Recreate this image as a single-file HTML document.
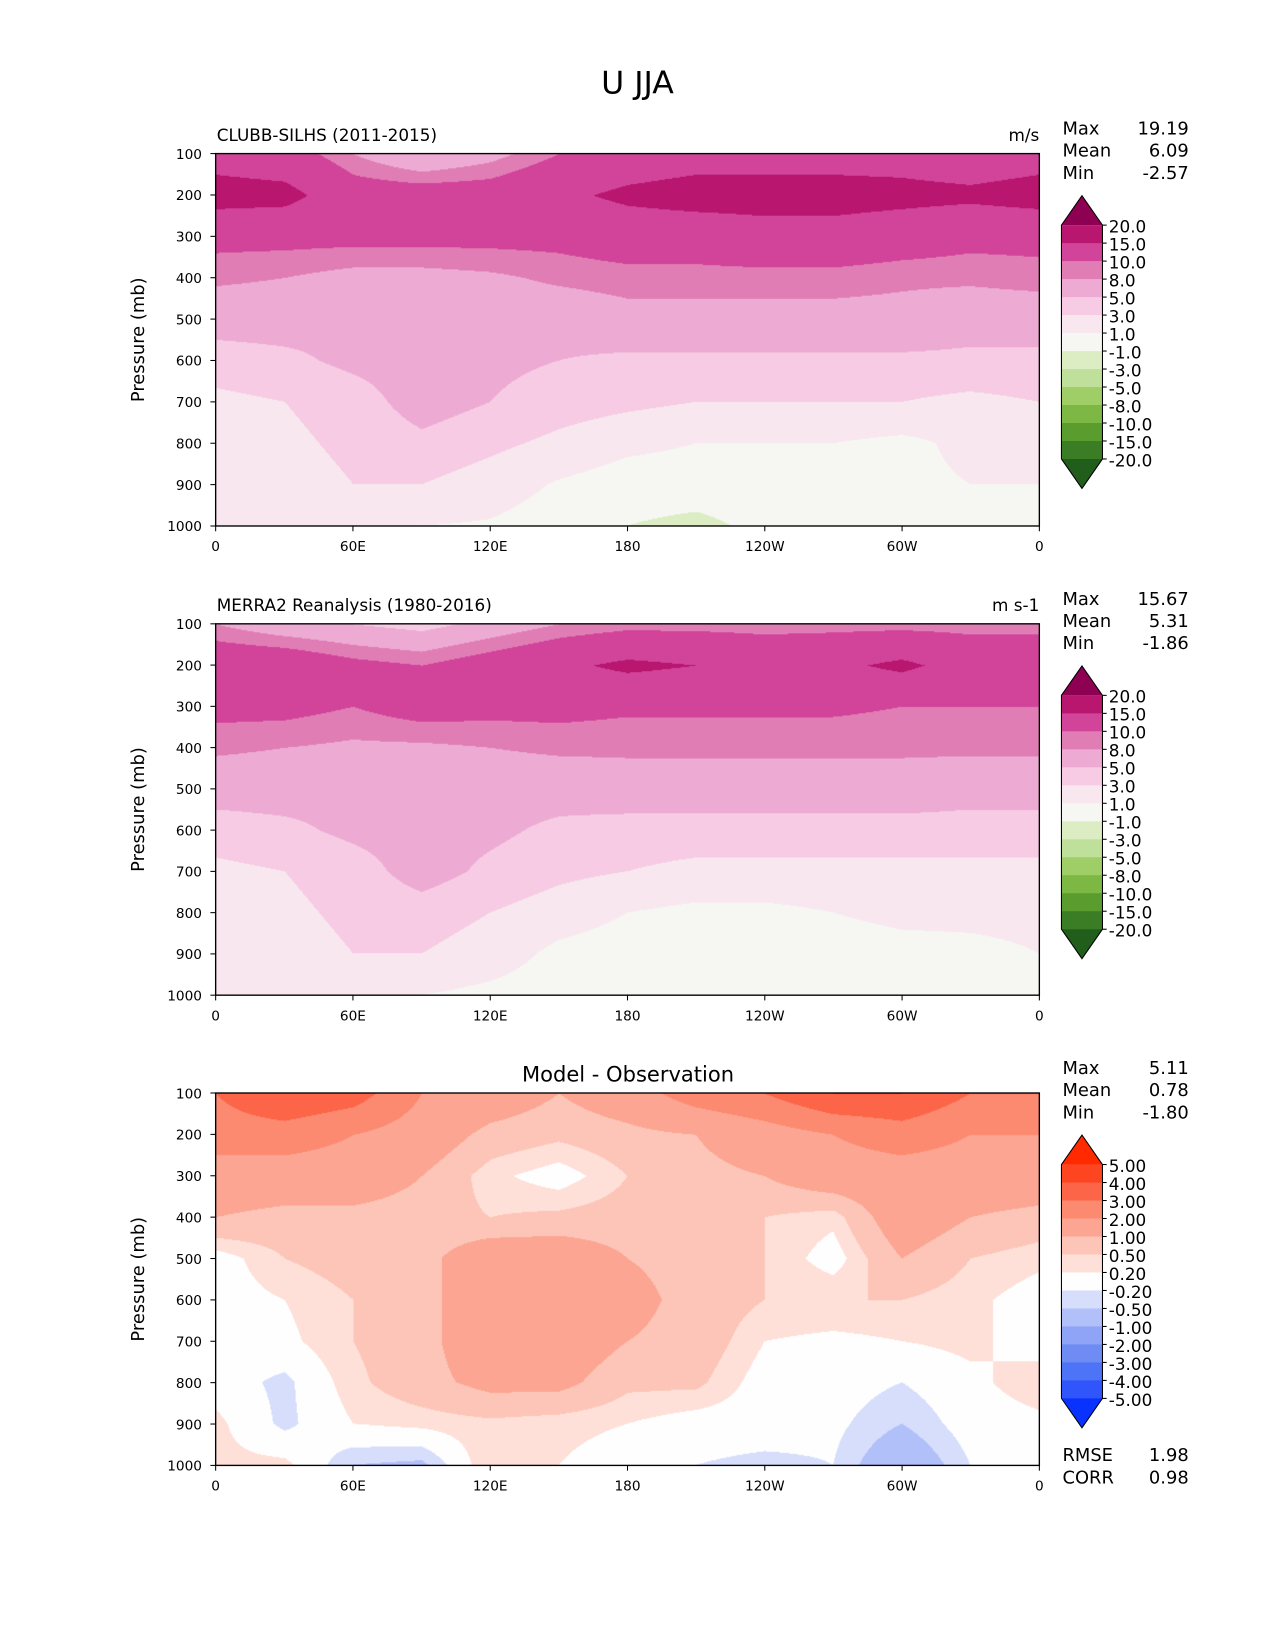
<!DOCTYPE html>
<html><head><meta charset="utf-8">
<style>
html,body{margin:0;padding:0;background:#fff;}
body{width:1275px;height:1650px;overflow:hidden;position:relative;font-family:"Liberation Sans","DejaVu Sans",sans-serif;}
#root{position:absolute;left:0;top:0;width:1212px;height:1568px;transform:scale(1.05198);transform-origin:0 0;}
canvas{position:absolute;}
svg{position:absolute;left:0;top:0;}
text{font-family:"DejaVu Sans","Liberation Sans",sans-serif;fill:#000;}
</style></head>
<body>
<div id="root">
<canvas id="c1" width="783" height="354" style="left:205px;top:146px"></canvas>
<canvas id="c2" width="783" height="353" style="left:205px;top:593px"></canvas>
<canvas id="c3" width="783" height="354" style="left:205px;top:1039px"></canvas>
<svg id="s" width="1212" height="1568"></svg>
</div>
<script>
const lons=[0,30,60,90,120,150,180,210,240,270,300,330,360];
const levs=[100,200,300,400,500,600,700,800,900,1000];
const xTickLabels=["0","60E","120E","180","120W","60W","0"];
const yTickLabels=["100","200","300","400","500","600","700","800","900","1000"];
const uLevels=[-20,-15,-10,-8,-5,-3,-1,1,3,5,8,10,15,20];
const uLabels=["20.0","15.0","10.0","8.0","5.0","3.0","1.0","-1.0","-3.0","-5.0","-8.0","-10.0","-15.0","-20.0"];
const uColors=["#215e1c","#3a7d24","#5a9d2e","#7db844","#9fcd66","#bfe09a","#dcedc4","#f6f6f3","#f9e7ef","#f6cbe3","#edaad3","#e07db5","#d2449a","#b8166f","#8e0152"];
const dLevels=[-5,-4,-3,-2,-1,-0.5,-0.2,0.2,0.5,1,2,3,4,5];
const dLabels=["5.00","4.00","3.00","2.00","1.00","0.50","0.20","-0.20","-0.50","-1.00","-2.00","-3.00","-4.00","-5.00"];
const dColors=["#0a32ff","#2f55fb","#4d73f6","#6f8cf5","#8fa4f6","#b2c0fa","#d7defc","#fefefe","#fee0d8","#fdc5b7","#fca592","#fc8a71","#fd6548","#fe4522","#ff2a00"];
const model=[
[13,12,8,5,7,10,12,13,13,13,13,12,13],
[17,16.5,12,12,12,14,16,17,17,17,16.5,16,17],
[11,11,11,11,11,11,12,12,13,13,12,11,11],
[8.5,8,7,7,7.5,8.5,9,9,9,9,8.5,8.5,9],
[6,6,5.5,5.5,6,6,7,7,7,7,7,6,6],
[4,4.5,5.5,6,5.5,5,4.5,4.5,4.5,4.5,4.5,4.5,4.5],
[2.5,3,4,6,5,4,3.5,3,3,3,3,2.5,3],
[2,2.5,3.5,4.5,3.5,2.5,1.5,1,1,1,0.5,1.5,2],
[1.5,2,3,3,2,0.8,0,0,0,0,0.5,1,1],
[1,2,1,1,0.8,0,-1,-1.5,-0.5,0,-0.5,0,0.5]];
const obs=[
[8,6,5,4,6,8,9,9,9,9,9,9,9],
[13,13,11,10,12,14,16,15,13,14,16,13,13],
[11,11,10,11.5,11,11,10.5,10.5,10.5,10.5,10,10,10],
[8.5,8,7.5,7.5,8,8.5,8.5,8.5,8.5,8.5,8.5,8.5,8.5],
[6,6,5.5,5.5,6,6,6.5,6.5,6.5,6.5,6.5,6,6],
[4,4.5,5.5,6,5.5,4.5,4,4,4,4,4,4,4],
[2.5,3,4,6,4.5,3.5,3,2.5,2.5,2.5,2.5,2.5,2.5],
[2,2.5,3.5,4,3,2,1,0.5,0.5,1,1.5,1.5,1.5],
[1.5,2,3,3,2,0.5,0,0,0,0,0.3,0.5,1],
[1,1.5,1.5,1,0.5,0,-1,-1,0,0,0,0,0.5]];
const diff=[
[3,4,3.5,2,1.5,1,1.5,2.5,3,4,4,3,3],
[2.5,2.5,2,1.5,0.8,0.6,0.8,1,1.5,2,2.5,2,2],
[1.5,1.5,1.5,1,0.3,0,0.5,0.8,1,1.5,1.5,1.5,1.5],
[1,0.8,0.8,0.7,0.5,0.6,0.7,0.8,0.5,0.3,1.5,1,0.8],
[0,0.5,0.7,0.8,1.5,1.5,1,0.8,0.5,0,1,0.5,0.3],
[0,0.2,0.5,0.8,1.5,1.5,1.2,0.8,0.5,0.5,0.5,0.3,0],
[0,0.1,0.5,0.8,1.5,1.5,1,0.8,0.2,0.1,0.2,0.3,0],
[0,-0.3,0.4,0.8,1.2,1.2,0.6,0.6,0,0,-0.2,0.1,0.4],
[0.3,-0.3,0.2,0.3,0.4,0.3,0.2,0,0,-0.1,-0.5,0,0.1],
[0.3,0.3,-0.5,-0.6,0.5,0.2,0,-0.2,-0.3,-0.2,-1,-0.2,-0.2]];
const statsModel=["19.19","6.09","-2.57"];
const statsObs=["15.67","5.31","-1.86"];
const statsDiff=["5.11","0.78","-1.80"];

function hex(c){return [parseInt(c.substr(1,2),16),parseInt(c.substr(3,2),16),parseInt(c.substr(5,2),16)];}
function sample(grid,lon,p){
  let fx=lon/30, fy=(p-100)/100;
  let i=Math.min(Math.floor(fx),lons.length-2), j=Math.min(Math.floor(fy),levs.length-2);
  let tx=fx-i, ty=fy-j;
  let a=grid[j][i],b=grid[j][i+1],c=grid[j+1][i],d=grid[j+1][i+1];
  return (a*(1-tx)+b*tx)*(1-ty)+(c*(1-tx)+d*tx)*ty;
}
function draw(id,grid,levels,colors){
  const cv=document.getElementById(id),ctx=cv.getContext('2d');
  const W=cv.width,H=cv.height,img=ctx.createImageData(W,H);
  const cols=colors.map(hex);
  for(let y=0;y<H;y++){const p=100+900*y/(H-1);
    for(let x=0;x<W;x++){const lon=360*x/(W-1);
      const v=sample(grid,lon,p);let k=0;while(k<levels.length&&v>=levels[k])k++;
      const c=cols[k],o=(y*W+x)*4;img.data[o]=c[0];img.data[o+1]=c[1];img.data[o+2]=c[2];img.data[o+3]=255;}}
  ctx.putImageData(img,0,0);
}
draw('c1',model,uLevels,uColors);
draw('c2',obs,uLevels,uColors);
draw('c3',diff,dLevels,dColors);

const NS="http://www.w3.org/2000/svg",svg=document.getElementById('s');
function el(tag,attrs,txt){const e=document.createElementNS(NS,tag);for(const k in attrs)e.setAttribute(k,attrs[k]);if(txt!==undefined)e.textContent=txt;svg.appendChild(e);return e;}
const X0=205,X1=988;
function xs(lon){return X0+(X1-X0)*lon/360;}
let t=el('text',{x:606,y:89,'font-size':30,'text-anchor':'middle'},'U JJA');



function panel(top,bot,name,left,right,center,stats,cbTop,labels,colors,extra){
  const ys=p=>top+(bot-top)*(p-100)/900;
  let r=el('rect',{x:X0,y:top,width:X1-X0,height:bot-top,fill:'none',stroke:'#000','stroke-width':1.3});
  
  
  yTickLabels.forEach((lb,i)=>{const y=ys(levs[i]);
    el('line',{x1:X0-5,x2:X0,y1:y,y2:y,stroke:'#000'});
    let tt=el('text',{x:X0-13,y:y+5,'font-size':13,'text-anchor':'end'},lb);
    
    });
  xTickLabels.forEach((lb,i)=>{const x=xs(i*60);
    el('line',{x1:x,x2:x,y1:bot,y2:bot+5,stroke:'#000'});
    let tt=el('text',{x:x,y:bot+24,'font-size':13,'text-anchor':'middle'},lb);
    
    });
  let yl=el('text',{x:0,y:0,'font-size':17,'text-anchor':'middle',transform:`translate(137,${(top+bot)/2}) rotate(-90)`},'Pressure (mb)');
  
  
  if(left){let a=el('text',{x:206,y:top-12,'font-size':16},left);}
  if(right){let a=el('text',{x:988,y:top-12,'font-size':16,'text-anchor':'end'},right);}
  if(center){let a=el('text',{x:597,y:top-11,'font-size':20,'text-anchor':'middle'},center);}
  ['Max','Mean','Min'].forEach((k,i)=>{const y=top-18+i*21;
    let a=el('text',{x:1010,y:y,'font-size':17},k);
    let b=el('text',{x:1130,y:y,'font-size':17,'text-anchor':'end'},stats[i]);});
  const cx0=1009,cx1=1048,bh=17.1,tri=28;
  const boxTop=cbTop+tri,nb=13,boxBot=boxTop+nb*bh;
  const g=el('g',{});
  function add(tag,attrs){const e=document.createElementNS(NS,tag);for(const k in attrs)e.setAttribute(k,attrs[k]);g.appendChild(e);return e;}
  add('polygon',{points:`${cx0},${boxTop} ${(cx0+cx1)/2},${cbTop} ${cx1},${boxTop}`,fill:colors[14]});
  for(let i=0;i<nb;i++)add('rect',{x:cx0,y:boxTop+i*bh,width:cx1-cx0,height:bh+0.5,fill:colors[13-i]});
  add('polygon',{points:`${cx0},${boxBot} ${(cx0+cx1)/2},${boxBot+tri} ${cx1},${boxBot}`,fill:colors[0]});
  add('polygon',{points:`${cx0},${boxTop} ${(cx0+cx1)/2},${cbTop} ${cx1},${boxTop} ${cx1},${boxBot} ${(cx0+cx1)/2},${boxBot+tri} ${cx0},${boxBot}`,fill:'none',stroke:'#000','stroke-width':1});
  labels.forEach((lb,i)=>{const y=boxTop+i*bh;
    add('line',{x1:cx1,x2:cx1+4,y1:y,y2:y,stroke:'#000'});
    let a=el('text',{x:1054,y:y+7,'font-size':16},lb);});
  if(extra){[['RMSE',extra[0]],['CORR',extra[1]]].forEach((kv,i)=>{const y=bot-4+i*21;
    let a=el('text',{x:1010,y:y,'font-size':17},kv[0]);
    let b=el('text',{x:1130,y:y,'font-size':17,'text-anchor':'end'},kv[1]);});}
}
panel(146,500,'clubb-panel','CLUBB-SILHS (2011-2015)','m/s',null,statsModel,186,uLabels,uColors);
panel(593,946,'merra2-panel','MERRA2 Reanalysis (1980-2016)','m s-1',null,statsObs,633,uLabels,uColors);
panel(1039,1393,'difference-panel',null,null,'Model - Observation',statsDiff,1079,dLabels,dColors,['1.98','0.98']);
</script>
</body></html>
